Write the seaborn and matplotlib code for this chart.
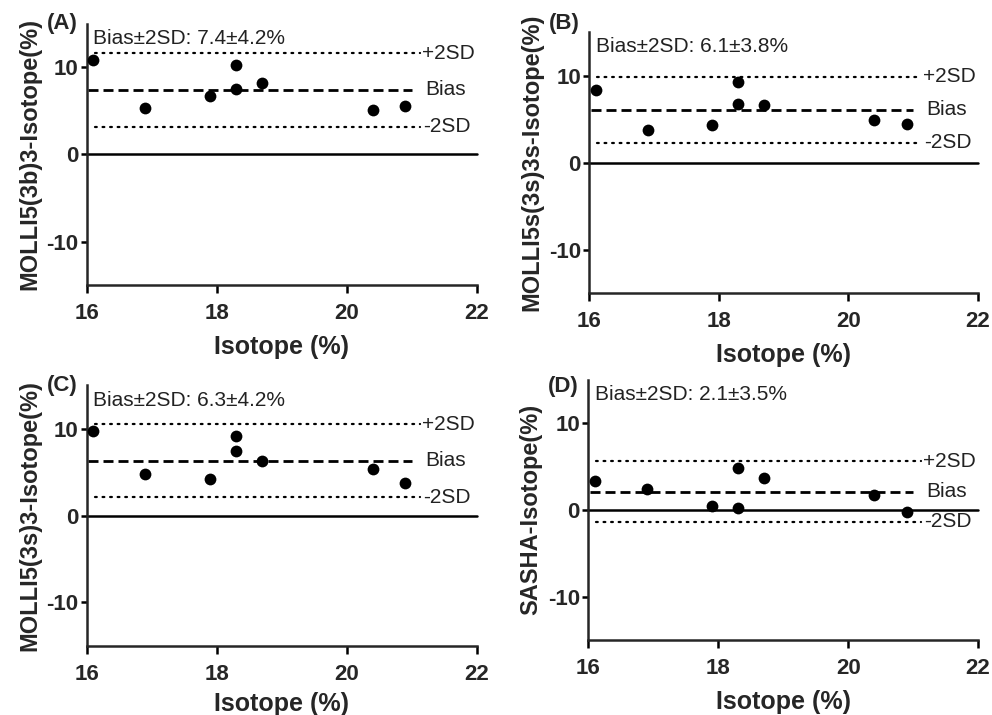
import matplotlib
matplotlib.use("Agg")
import matplotlib.pyplot as plt
import seaborn as sns
import pandas as pd

sns.set_style("ticks")
plt.rcParams['font.family'] = ['Liberation Sans', 'DejaVu Sans']

isotope = [16.1, 16.9, 17.9, 18.3, 18.3, 18.7, 20.4, 20.9]
diff_a = [10.8, 5.3, 6.7, 10.3, 7.5, 8.2, 5.1, 5.5]
diff_b = [8.3, 3.8, 4.3, 9.3, 6.8, 6.6, 4.9, 4.4]
diff_c = [9.7, 4.8, 4.2, 9.2, 7.4, 6.3, 5.4, 3.8]
diff_d = [3.3, 2.4, 0.4, 4.8, 0.2, 3.7, 1.7, -0.3]

panel_tags = ["(A)", "(B)", "(C)", "(D)"]
ylabels = ["MOLLI5(3b)3-Isotope(%)", "MOLLI5s(3s)3s-Isotope(%)",
           "MOLLI5(3s)3-Isotope(%)", "SASHA-Isotope(%)"]
bias = [7.4, 6.1, 6.3, 2.1]
sd2 = [4.2, 3.8, 4.2, 3.5]
xticks = [16, 18, 20, 22]
yticks = [-10, 0, 10]
xlabel = "Isotope (%)"

fig = plt.figure(figsize=(9.92, 7.15), dpi=100)
positions = [
    [0.0877, 0.601, 0.393, 0.366],
    [0.594, 0.590, 0.392, 0.365],
    [0.0877, 0.097, 0.393, 0.364],
    [0.593, 0.105, 0.393, 0.364],
]
tag_y = [1.0, 1.035, 1.0, 0.973]
label_pads = [8, 8, 5, 8]
diffs = [diff_a, diff_b, diff_c, diff_d]

for i in range(4):
    ax = fig.add_axes(positions[i])
    df = pd.DataFrame({"x": isotope, "y": diffs[i]})
    b, s = bias[i], sd2[i]
    ax.plot([16, 22], [0, 0], color="black", lw=1.8, zorder=1, clip_on=False)
    ax.plot([16.02, 21.0], [b, b], color="black", lw=2.0, dashes=(3.6, 1.8), zorder=2)
    ax.plot([16.12, 21.12], [b + s, b + s], color="black", lw=1.6, linestyle=(0, (0.8, 2.6)),
            dash_capstyle='round', zorder=2)
    ax.plot([16.12, 21.12], [b - s, b - s], color="black", lw=1.6, linestyle=(0, (0.8, 2.6)),
            dash_capstyle='round', zorder=2)
    sns.scatterplot(data=df, x="x", y="y", ax=ax, color="black", s=72,
                    edgecolor="black", linewidth=0, zorder=3, clip_on=False)
    ax.text(21.15, b + s, "+2SD", fontsize=15, va="center", ha="left", color="#222222")
    ax.text(21.2, b, "Bias", fontsize=15, va="center", ha="left", color="#222222")
    ax.text(21.17, b - s, "-2SD", fontsize=15, va="center", ha="left", color="#222222")
    ax.text(16.1, 13.3, f"Bias\u00b12SD: {b}\u00b1{s}%", fontsize=15, va="center",
            ha="left", color="#222222")
    ax.text(-0.103, tag_y[i], panel_tags[i], transform=ax.transAxes, fontsize=16,
            fontweight="bold", va="center", ha="left")
    ax.set_xlim(16, 22)
    ax.set_ylim(-15, 15)
    ax.set_xticks(xticks)
    ax.set_yticks(yticks)
    ax.set_xticklabels([str(t) for t in xticks], fontsize=16, fontweight="bold")
    ax.set_yticklabels([str(t) for t in yticks], fontsize=16, fontweight="bold")
    ax.set_xlabel(xlabel, fontsize=18, fontweight="bold", labelpad=label_pads[i])
    ax.set_ylabel(ylabels[i], fontsize=17, fontweight="bold", labelpad=4)
    for sp in ["top", "right"]:
        ax.spines[sp].set_visible(False)
    for sp in ["left", "bottom"]:
        ax.spines[sp].set_linewidth(1.8)
    ax.tick_params(axis="x", width=1.8, length=6, direction="out", pad=7, color="black")
    ax.tick_params(axis="y", width=1.8, length=4, direction="out", pad=2, color="black")

fig.savefig("out.png", dpi=100)
